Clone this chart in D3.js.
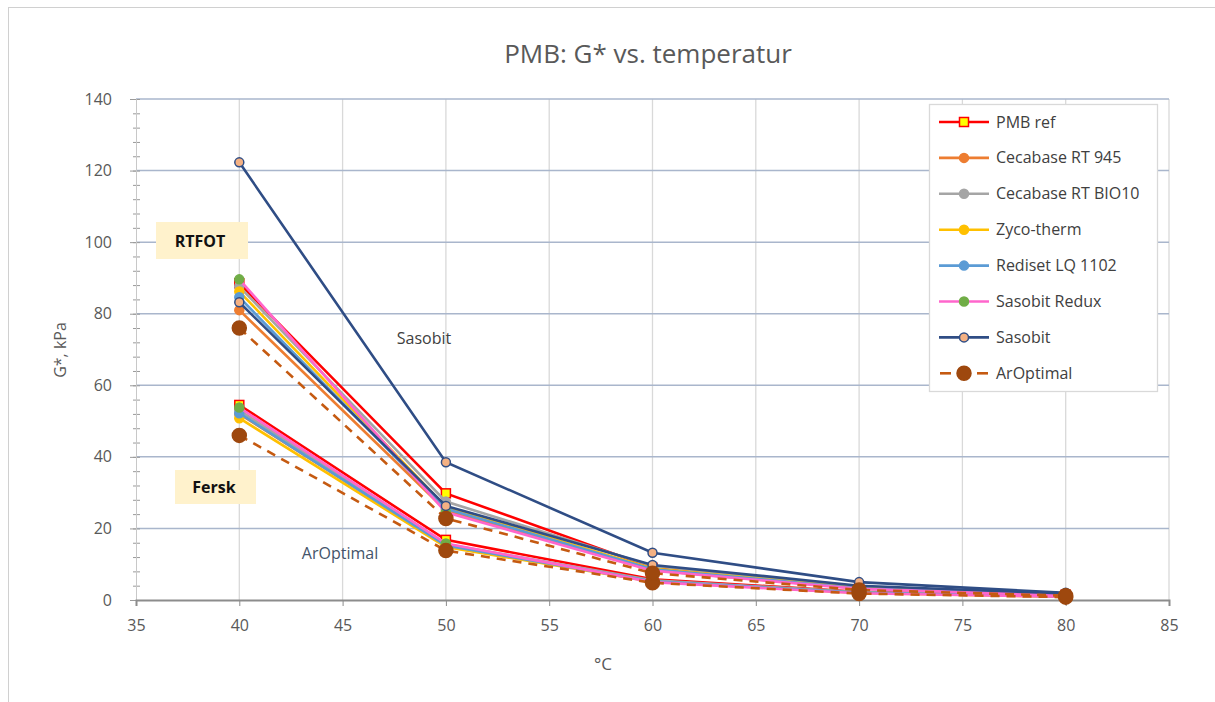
<!DOCTYPE html>
<html>
<head>
<meta charset="utf-8">
<script src="https://cdn.jsdelivr.net/npm/d3@7"></script>
<style>
	body { margin: 0; background: #fff; }
	text { font-family: "Open Sans", "Noto Sans", sans-serif; }
</style>
</head>
<body>
<script>

var temps = [40, 50, 60, 70, 80]
var xTicks = [35, 40, 45, 50, 55, 60, 65, 70, 75, 80, 85]
var yTicks = [0, 20, 40, 60, 80, 100, 120, 140]

var seriesNames = ["PMB ref", "Cecabase RT 945", "Cecabase RT BIO10", "Zyco-therm",
	"Rediset LQ 1102", "Sasobit Redux", "Sasobit", "ArOptimal"]

// RTFOT aged values, G* kPa at 40..80 C
var rtfot = [
	[88.5, 29.8, 9.0, 3.5, 1.5],
	[81.0, 25.0, 8.3, 3.2, 1.4],
	[87.6, 27.5, 9.5, 3.7, 1.6],
	[86.2, 26.0, 8.8, 3.4, 1.5],
	[84.6, 25.5, 8.6, 3.3, 1.4],
	[89.6, 24.5, 8.2, 3.1, 1.3],
	[122.3, 38.5, 13.2, 5.0, 2.0],
	[76.0, 22.8, 7.5, 2.8, 1.2]
]
// fresh (Fersk) values
var fersk = [
	[54.5, 16.8, 5.8, 2.3, 1.1],
	[52.0, 15.3, 5.3, 2.1, 1.0],
	[53.0, 15.6, 5.5, 2.2, 1.0],
	[50.8, 14.8, 5.1, 2.0, 0.9],
	[52.2, 15.2, 5.2, 2.1, 1.0],
	[53.8, 15.8, 5.0, 1.9, 0.9],
	[83.2, 26.3, 9.8, 4.0, 1.8],
	[46.0, 13.8, 4.8, 1.8, 0.8]
]

var lineColors = ["#ff0000", "#ed7d31", "#a5a5a5", "#ffc000", "#5b9bd5", "#ff66cc", "#2f4d85", "#c55a11"]
var markerFill = ["#ffff00", "#ed7d31", "#a5a5a5", "#ffc000", "#5b9bd5", "#70ad47", "#f4b183", "#9e480e"]
var markerStroke = ["#ff0000", "#ed7d31", "#a5a5a5", "#ffc000", "#5b9bd5", "#70ad47", "#2f4d85", "#9e480e"]

var svgWidth = 1215
var svgHeight = 702

var svg = d3.select("body").append("svg")
	.attr("width", svgWidth)
	.attr("height", svgHeight)

// chart frame
svg.append("rect")
	.attr("x", 8.5).attr("y", 7.5)
	.attr("width", 1215).attr("height", 700)
	.style("fill", "white")
	.style("stroke", "#d0d0d0")

var x = d3.scaleLinear().domain([35, 85]).range([136, 1169])
var y = d3.scaleLinear().domain([0, 140]).range([600, 99])

// vertical grid
svg.selectAll(".vgrid").data(xTicks.slice(1)).enter().append("line")
	.attr("x1", d => x(d)).attr("x2", d => x(d))
	.attr("y1", y(140)).attr("y2", y(0))
	.style("stroke", "#d9d9d9").style("stroke-width", 1.3)

// horizontal grid
svg.selectAll(".hgrid").data(yTicks.slice(1)).enter().append("line")
	.attr("x1", x(35)).attr("x2", x(85))
	.attr("y1", d => y(d)).attr("y2", d => y(d))
	.style("stroke", "#a9b6cc").style("stroke-width", 1.5)

// y axis, minor ticks every 4
var yAxis = d3.axisLeft(y).tickValues(d3.range(0, 141, 4)).tickSize(4).tickFormat("")
var gy = svg.append("g").attr("transform", "translate(" + x(35) + ",0)").call(yAxis)
gy.select(".domain").remove()
gy.selectAll(".tick line").attr("stroke", "#9a9a9a").attr("x2", 4).attr("x1", -3)

var gyl = svg.append("g").attr("transform", "translate(" + x(35) + ",0)")
	.call(d3.axisLeft(y).tickValues(yTicks).tickSize(6).tickPadding(18))
gyl.select(".domain").attr("stroke", "#c8c8c8")
gyl.selectAll(".tick line").attr("stroke", "#9a9a9a")
gyl.selectAll(".tick text").style("font-size", "16px").style("fill", "#595959")
	.style("font-family", "'Open Sans', sans-serif")

// x axis
var gx = svg.append("g").attr("transform", "translate(0," + y(0) + ")")
	.call(d3.axisBottom(x).tickValues(xTicks).tickSize(6).tickPadding(14))
gx.select(".domain").attr("stroke", "#8c8c8c").attr("stroke-width", 2)
gx.selectAll(".tick line").attr("stroke", "#8c8c8c")
gx.selectAll(".tick text").style("font-size", "16px").style("fill", "#595959")
	.style("font-family", "'Open Sans', sans-serif")

// titles
svg.append("text").attr("x", 648).attr("y", 63).attr("text-anchor", "middle")
	.style("font-size", "26px").style("fill", "#595959").text("PMB: G* vs. temperatur")
svg.append("text").attr("x", 603).attr("y", 670).attr("text-anchor", "middle")
	.style("font-size", "17px").style("fill", "#595959").text("°C")
svg.append("text").attr("transform", "translate(66,350) rotate(-90)").attr("text-anchor", "middle")
	.style("font-size", "16px").style("fill", "#595959").text("G*, kPa")

var line = d3.line().x((d, i) => x(temps[i])).y(d => y(d))

// series lines + markers
seriesNames.forEach(function(name, s) {
	var g = svg.append("g")
	var dashed = name == "ArOptimal";
	[fersk[s], rtfot[s]].forEach(function(vals) {
		g.append("path").attr("d", line(vals))
			.style("fill", "none").style("stroke", lineColors[s]).style("stroke-width", 2.6)
			.style("stroke-dasharray", dashed ? "9,7" : null)
		vals.forEach(function(v, i) {
			if (s == 0) {
				g.append("rect").attr("x", x(temps[i]) - 4.5).attr("y", y(v) - 4.5)
					.attr("width", 9).attr("height", 9)
					.style("fill", markerFill[s]).style("stroke", markerStroke[s]).style("stroke-width", 1.5)
			} else {
				g.append("circle").attr("cx", x(temps[i])).attr("cy", y(v))
					.attr("r", dashed ? 7 : 4.5)
					.style("fill", markerFill[s]).style("stroke", markerStroke[s]).style("stroke-width", 1.5)
			}
		})
	})
})

// annotation boxes
svg.append("rect").attr("x", 156).attr("y", 222).attr("width", 92).attr("height", 37).style("fill", "#fff2cc")
svg.append("text").attr("x", 200).attr("y", 247).attr("text-anchor", "middle")
	.style("font-size", "16px").style("font-weight", "bold").style("fill", "#111").text("RTFOT")
svg.append("rect").attr("x", 175).attr("y", 470).attr("width", 81).attr("height", 34).style("fill", "#fff2cc")
svg.append("text").attr("x", 214).attr("y", 493).attr("text-anchor", "middle")
	.style("font-size", "16px").style("font-weight", "bold").style("fill", "#111").text("Fersk")

svg.append("text").attr("x", 424).attr("y", 344).attr("text-anchor", "middle")
	.style("font-size", "16px").style("fill", "#404040").text("Sasobit")
svg.append("text").attr("x", 340).attr("y", 559).attr("text-anchor", "middle")
	.style("font-size", "16px").style("fill", "#44546a").text("ArOptimal")

// legend
var legend = svg.append("g")
legend.append("rect").attr("x", 929.5).attr("y", 104.5).attr("width", 228).attr("height", 287)
	.style("fill", "white").style("stroke", "#d9d9d9").style("stroke-width", 1.3)

seriesNames.forEach(function(name, s) {
	var ly = 122 + s * 35.9
	var dashed = name == "ArOptimal"
	if (dashed) {
		[[940, 951], [977, 988]].forEach(function(seg) {
			legend.append("line").attr("x1", seg[0]).attr("x2", seg[1]).attr("y1", ly).attr("y2", ly)
				.style("stroke", lineColors[s]).style("stroke-width", 2.6)
		})
	} else {
		legend.append("line").attr("x1", 939).attr("x2", 989).attr("y1", ly).attr("y2", ly)
			.style("stroke", lineColors[s]).style("stroke-width", 2.6)
	}
	if (s == 0) {
		legend.append("rect").attr("x", 964 - 4.5).attr("y", ly - 4.5).attr("width", 9).attr("height", 9)
			.style("fill", markerFill[s]).style("stroke", markerStroke[s]).style("stroke-width", 1.5)
	} else {
		legend.append("circle").attr("cx", 964).attr("cy", ly).attr("r", dashed ? 7 : 4.5)
			.style("fill", markerFill[s]).style("stroke", markerStroke[s]).style("stroke-width", 1.5)
	}
	legend.append("text").attr("x", 996).attr("y", ly + 5.5)
		.style("font-size", "16px").style("fill", "#404040").text(name)
})

</script>
</body>
</html>
